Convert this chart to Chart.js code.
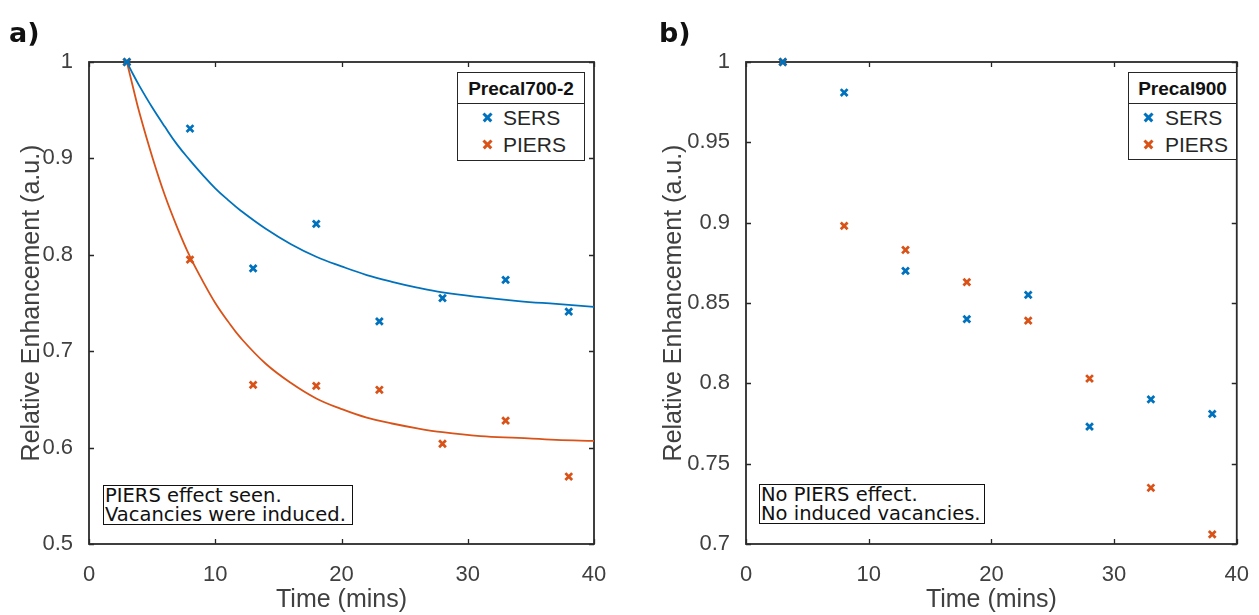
<!DOCTYPE html>
<html>
<head>
<meta charset="utf-8">
<script src="https://cdn.jsdelivr.net/npm/chart.js@4.4.1/dist/chart.umd.min.js"></script>
<style>
  html, body { margin: 0; padding: 0; background: #fff; }
  #wrap { position: relative; width: 1259px; height: 615px; overflow: hidden; font-family: "Liberation Sans", Arial, sans-serif; }
  canvas { position: absolute; top: 0; }
  .panel { position: absolute; font-family: "DejaVu Sans", "Liberation Sans", Arial, sans-serif; font-weight: bold; font-size: 27px; color: #111; }
  .leg { position: absolute; box-sizing: border-box; border: 1.6px solid #262626; background: #fff; }
  .leg .lt { height: 31px; line-height: 31px; text-align: center; font-weight: bold; font-size: 19px; color: #111; border-bottom: 1.6px solid #262626; box-sizing: border-box; }
  .leg .row { position: relative; height: 27px; line-height: 27px; font-size: 21px; color: #262626; }
  .leg .mk { position: absolute; top: 50%; width: 9px; height: 9px; margin-top: -5px; }
  .leg .mk::before, .leg .mk::after { content: ""; position: absolute; left: -1px; top: 3.5px; width: 11px; height: 2.6px; background: currentColor; }
  .leg .mk::before { transform: rotate(45deg); }
  .leg .mk::after { transform: rotate(-45deg); }
  .note { position: absolute; box-sizing: border-box; border: 1.8px solid #111; background: #fff; font-family: "DejaVu Sans", Verdana, sans-serif; font-size: 19.5px; line-height: 19px; color: #111; padding: 0 0 0 1px; white-space: nowrap; overflow: hidden; }
</style>
</head>
<body>
<div id="wrap">
  <canvas id="ca" width="629" height="615" style="left:0px;width:629px;height:615px"></canvas>
  <canvas id="cb" width="630" height="615" style="left:629px;width:630px;height:615px"></canvas>
  <div class="panel" style="left:9px;top:17px">a)</div>
  <div class="panel" style="left:659px;top:17px">b)</div>
  <div class="leg" style="left:457px;top:72px;width:128px;height:89px">
    <div class="lt" id="legTitleA"></div>
    <div class="row"><span class="mk" style="left:25px;color:#0072BD"></span><span style="position:absolute;left:45px" class="s1"></span></div>
    <div class="row"><span class="mk" style="left:25px;color:#D95319"></span><span style="position:absolute;left:45px" class="s2"></span></div>
  </div>
  <div class="leg" style="left:1128px;top:72px;width:109px;height:88px">
    <div class="lt" id="legTitleB"></div>
    <div class="row"><span class="mk" style="left:15px;color:#0072BD"></span><span style="position:absolute;left:36px" class="s1"></span></div>
    <div class="row"><span class="mk" style="left:15px;color:#D95319"></span><span style="position:absolute;left:36px" class="s2"></span></div>
  </div>
  <div class="note" id="noteA" style="left:103px;top:485px;width:250px;height:40px"></div>
  <div class="note" id="noteB" style="left:759px;top:484px;width:226px;height:40px"></div>
</div>
<script>
// ---------- data ----------
const times = [3, 8, 13, 18, 23, 28, 33, 38];

const sersA  = [1.000, 0.931, 0.786, 0.832, 0.731, 0.755, 0.774, 0.741];
const piersA = [1.000, 0.795, 0.665, 0.664, 0.660, 0.604, 0.628, 0.570];

const sersB  = [1.000, 0.981, 0.870, 0.840, 0.855, 0.773, 0.790, 0.781];
const piersB = [1.000, 0.898, 0.883, 0.863, 0.839, 0.803, 0.735, 0.706];

// fitted curves
const fitX      = [3, 3.5, 4, 5, 6, 7, 8, 9, 10, 11, 12, 14, 16, 18, 20, 22, 24, 26, 28, 31, 34, 37, 40];
const fitSersA  = [1.000, 0.987, 0.975, 0.953, 0.933, 0.914, 0.898, 0.883, 0.869, 0.857, 0.846, 0.827, 0.811, 0.798, 0.788, 0.779, 0.772, 0.766, 0.761, 0.756, 0.752, 0.749, 0.746];
const fitPiersA = [1.000, 0.973, 0.947, 0.902, 0.862, 0.828, 0.798, 0.773, 0.750, 0.731, 0.714, 0.687, 0.667, 0.651, 0.640, 0.631, 0.625, 0.620, 0.616, 0.612, 0.610, 0.608, 0.607];

const xTicks  = [0, 10, 20, 30, 40];
const yTicksA = [0.5, 0.6, 0.7, 0.8, 0.9, 1];
const yTicksB = [0.7, 0.75, 0.8, 0.85, 0.9, 0.95, 1];

const seriesNames = ['SERS', 'PIERS'];
const legendTitles = ['Precal700-2', 'Precal900'];
const notesA = ['PIERS effect seen.', 'Vacancies were induced.'];
const notesB = ['No PIERS effect.', 'No induced vacancies.'];
const xTitle = 'Time (mins)';
const yTitle = 'Relative Enhancement (a.u.)';

// ---------- text overlays ----------
document.getElementById('legTitleA').textContent = legendTitles[0];
document.getElementById('legTitleB').textContent = legendTitles[1];
document.querySelectorAll('.s1').forEach(e => e.textContent = seriesNames[0]);
document.querySelectorAll('.s2').forEach(e => e.textContent = seriesNames[1]);
document.getElementById('noteA').innerHTML = notesA.join('<br>');
document.getElementById('noteB').innerHTML = notesB.join('<br>');

// ---------- chart helpers ----------
const BLUE = '#0072BD', ORANGE = '#D95319';
const pts = (xs, ys) => xs.map((x, i) => ({ x, y: ys[i] }));

const boxPlugin = {
  id: 'matlabBox',
  beforeDatasetsDraw(chart) {
    const { ctx, chartArea: a, scales } = chart;
    ctx.save();
    ctx.strokeStyle = '#262626';
    ctx.lineWidth = 1.3;
    const tl = 5;
    ctx.beginPath();
    scales.x.ticks.forEach(t => {
      const px = Math.round(scales.x.getPixelForValue(t.value)) + 0.5;
      ctx.moveTo(px, a.bottom); ctx.lineTo(px, a.bottom - tl);
      ctx.moveTo(px, a.top); ctx.lineTo(px, a.top + tl);
    });
    scales.y.ticks.forEach(t => {
      const py = Math.round(scales.y.getPixelForValue(t.value)) + 0.5;
      ctx.moveTo(a.left, py); ctx.lineTo(a.left + tl, py);
      ctx.moveTo(a.right, py); ctx.lineTo(a.right - tl, py);
    });
    ctx.stroke();
    ctx.lineWidth = 1.8;
    ctx.strokeStyle = '#2b2b2b';
    ctx.strokeRect(a.left, a.top, a.right - a.left, a.bottom - a.top);
    ctx.restore();
  }
};

function makeChart(id, sers, piers, fits, yTicks, yMin, yWidth, padLeft, padRight) {
  const datasets = [
    { label: seriesNames[0], data: pts(times, sers), borderColor: BLUE, backgroundColor: BLUE,
      pointStyle: 'crossRot', pointRadius: 4.8, pointBorderWidth: 2.8, showLine: false, clip: false },
    { label: seriesNames[1], data: pts(times, piers), borderColor: ORANGE, backgroundColor: ORANGE,
      pointStyle: 'crossRot', pointRadius: 4.8, pointBorderWidth: 2.8, showLine: false, clip: false }
  ];
  if (fits) {
    datasets.push({ type: 'line', label: 'fitS', data: pts(fitX, fits[0]), borderColor: BLUE,
      borderWidth: 1.8, pointRadius: 0, tension: 0.4, fill: false });
    datasets.push({ type: 'line', label: 'fitP', data: pts(fitX, fits[1]), borderColor: ORANGE,
      borderWidth: 1.8, pointRadius: 0, tension: 0.4, fill: false });
  }
  const tickFont = { family: '"Liberation Sans", Arial, sans-serif', size: 22 };
  const titleFont = { family: '"Liberation Sans", Arial, sans-serif', size: 25 };
  return new Chart(document.getElementById(id), {
    type: 'scatter',
    data: { datasets },
    options: {
      responsive: false,
      animation: false,
      events: [],
      layout: { padding: { top: 62, right: padRight, bottom: 0, left: padLeft } },
      plugins: { legend: { display: false }, tooltip: { enabled: false } },
      scales: {
        x: {
          type: 'linear', min: 0, max: 40,
          afterBuildTicks: s => { s.ticks = xTicks.map(v => ({ value: v })); },
          afterFit: s => { s.height = 71; },
          grid: { display: false },
          border: { display: false },
          ticks: { font: tickFont, color: '#404040', padding: 10, maxRotation: 0,
                   callback: v => String(v) },
          title: { display: true, text: xTitle, font: titleFont, color: '#404040', padding: { top: 0, bottom: 0 } }
        },
        y: {
          type: 'linear', min: yMin, max: 1,
          afterBuildTicks: s => { s.ticks = yTicks.map(v => ({ value: v })); },
          afterFit: s => { s.width = yWidth; },
          grid: { display: false },
          border: { display: false },
          ticks: { font: tickFont, color: '#404040', padding: 8,
                   callback: v => String(Number(v.toFixed(3))) },
          title: { display: true, text: yTitle, font: titleFont, color: '#404040', padding: { top: 17, bottom: 0 } }
        }
      }
    },
    plugins: [boxPlugin]
  });
}

makeChart('ca', sersA, piersA, [fitSersA, fitPiersA], yTicksA, 0.5, 89, 0, 35);
makeChart('cb', sersB, piersB, null, yTicksB, 0.7, 104, 13, 13);
</script>
</body>
</html>
